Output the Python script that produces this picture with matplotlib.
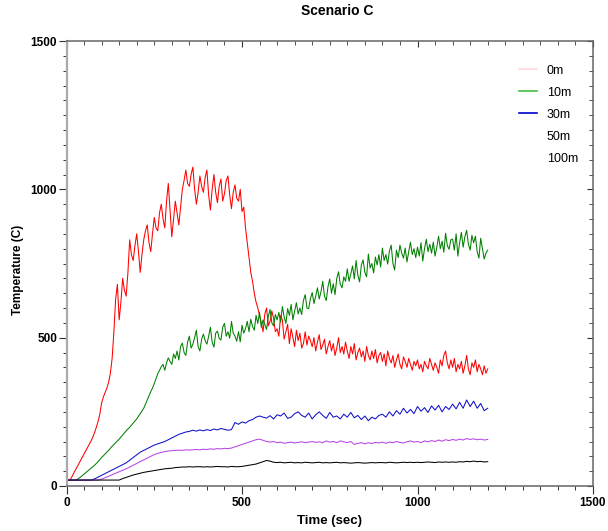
import numpy as np
import matplotlib
matplotlib.use("Agg")
import matplotlib.pyplot as plt
from matplotlib.lines import Line2D

plt.rcParams['font.family'] = ['Liberation Sans', 'DejaVu Sans']

# sample times (sec): 0m / 10m read every 5 s, the others every 10 s
time_fine = np.arange(0, 1201, 5)
time_s = np.arange(0, 1201, 10)

temp_0m = [
    20, 20, 20, 30, 42, 53, 64, 75, 86, 97, 108, 119, 130, 141, 152, 165, 180, 198, 218, 242,
    280, 300, 315, 330, 350, 380, 430, 520, 630, 680, 560, 620, 700, 660, 640, 720, 830, 780, 760, 810,
    850, 790, 720, 780, 830, 860, 880, 820, 790, 850, 905, 870, 860, 920, 950, 900, 870, 960, 1020, 930,
    840, 900, 960, 920, 880, 940, 1000, 1030, 1065, 1020, 1010, 1050, 1075, 1000, 950, 990, 1045, 1010, 990, 1040,
    1065, 980, 930, 1000, 1050, 990, 955, 1010, 1035, 960, 985, 1030, 1045, 980, 935, 990, 1015, 970, 960, 1000,
    925, 940, 870, 820, 770, 720, 690, 650, 620, 600, 575, 550, 520, 580, 600, 540, 555, 590, 565, 520,
    530, 505, 575, 560, 495, 520, 545, 480, 530, 500, 470, 525, 490, 515, 465, 480, 520, 475, 505, 490,
    470, 500, 455, 485, 510, 460, 475, 495, 445, 470, 490, 455, 480, 440, 465, 500, 450, 470, 445, 485,
    455, 430, 470, 445, 480, 425, 450, 465, 435, 455, 420, 470, 440, 425, 455, 430, 460, 415, 440, 450,
    420, 445, 405, 455, 430, 415, 440, 400, 425, 445, 410, 395, 435, 420, 400, 430, 410, 390, 420, 405,
    425, 395, 410, 385, 420, 405, 395, 430, 410, 390, 415, 400, 380, 425, 405, 440, 455, 415, 395, 425,
    400, 430, 385, 410, 395, 420, 380, 405, 440, 395, 375, 415, 400, 425, 385, 410, 395, 375, 405, 380,
    395]

temp_10m = [
    20, 20, 20, 20, 20, 20, 22, 26, 30, 35, 40, 45, 50, 55, 60, 65, 70, 76, 82, 89,
    96, 102, 108, 114, 120, 127, 134, 140, 146, 152, 158, 165, 172, 179, 186, 192, 198, 205, 212, 219,
    226, 235, 244, 253, 262, 276, 290, 304, 318, 330, 345, 362, 378, 390, 402, 410, 390, 415, 432, 420,
    410, 445, 430, 455, 425, 470, 482, 450, 440, 485, 505, 465, 478, 500, 525, 470, 455, 495, 512, 490,
    478, 505, 535, 485, 468, 515, 522, 498, 492, 535, 548, 505, 520, 498, 555, 515, 505, 488, 520, 486,
    542, 515, 530, 555, 520, 562, 538, 525, 575, 548, 585, 535, 560, 545, 528, 572, 595, 550, 540, 578,
    560, 585, 552, 605, 570, 548, 598, 575, 612, 560, 590, 618, 580, 600, 578, 625, 645, 600, 598, 632,
    652, 615, 640, 668, 630, 655, 690, 640, 625, 672, 698, 650, 682, 645, 700, 722, 680, 668, 705, 690,
    732, 690, 715, 742, 698, 760, 710, 688, 745, 762, 720, 705, 782, 735, 750, 718, 772, 745, 780, 738,
    802, 760, 780, 748, 792, 812, 750, 728, 795, 770, 812, 785, 768, 802, 755, 790, 822, 780, 800, 770,
    805, 775, 820, 758, 800, 832, 790, 815, 785, 822, 775, 805, 842, 800, 825, 788, 852, 810, 798, 830,
    832, 795, 850, 775, 820, 855, 805, 840, 862, 815, 795, 845, 820, 842, 790, 768, 835, 800, 765, 785,
    795]

temp_30m = [
    20, 20, 20, 20, 20, 20, 20, 20, 24, 30,
    36, 42, 48, 54, 60, 66, 72, 78, 87, 96,
    105, 114, 120, 126, 132, 138, 142, 146, 150, 156,
    162, 168, 174, 178, 182, 184, 188, 185, 189, 186,
    190, 187, 192, 189, 194, 191, 188, 190, 214, 208,
    216, 212, 220, 224, 232, 236, 232, 229, 237, 226,
    240, 236, 246, 228, 232, 244, 250, 238, 232, 246,
    226, 240, 250, 238, 228, 248, 232, 236, 226, 242,
    232, 248, 230, 238, 224, 236, 220, 232, 226, 238,
    242, 232, 250, 236, 254, 242, 262, 246, 258, 244,
    268, 252, 264, 248, 270, 256, 272, 250, 268, 258,
    276, 260, 282, 262, 290, 268, 286, 262, 278, 254,
    262]

temp_50m = [
    20, 20, 20, 20, 20, 20, 20, 20, 20, 20,
    23, 28, 33, 38, 43, 48, 53, 58, 64, 70,
    76, 82, 88, 94, 100, 106, 110, 113, 116, 118,
    119, 120, 121, 120, 122, 121, 122, 123, 122, 124,
    123, 125, 124, 126, 125, 127, 126, 128, 132, 136,
    140, 144, 148, 152, 156, 158, 154, 150, 148, 150,
    146, 148, 144, 146, 148, 145, 147, 149, 146, 148,
    150, 147, 149, 146, 152, 148, 150, 146, 152, 149,
    146, 150, 140, 144, 146, 142, 146, 143, 147, 145,
    148, 144, 148, 146, 150, 147, 145, 149, 152, 148,
    150, 146, 152, 149, 153, 150, 155, 151, 156, 153,
    157, 154, 158, 155, 160, 157, 159, 156, 158, 155,
    157]

temp_100m = [
    20, 20, 20, 20, 20, 20, 20, 20, 20, 20,
    20, 20, 20, 20, 20, 20, 25, 29, 33, 37,
    40, 43, 46, 48, 50, 52, 54, 56, 58, 59,
    60, 62, 63, 64, 64, 65, 64, 65, 65, 64,
    65, 64, 65, 66, 65, 65, 64, 66, 65, 65,
    66, 68, 70, 72, 74, 78, 82, 86, 84, 80,
    79, 80, 78, 79, 80, 78, 79, 78, 80, 79,
    78, 79, 80, 78, 79, 78, 79, 80, 78, 79,
    78, 77, 78, 79, 78, 77, 78, 79, 78, 79,
    79, 78, 80, 79, 78, 79, 80, 79, 80, 79,
    80, 79, 80, 81, 80, 79, 81, 80, 81, 80,
    81, 80, 82, 81, 83, 82, 84, 82, 83, 81,
    82]

labels = ["0m", "10m", "30m", "50m", "100m"]
times = [time_fine, time_fine, time_s, time_s, time_s]
series = [temp_0m, temp_10m, temp_30m, temp_50m, temp_100m]
colors = ["#ff0000", "#008000", "#1010c8", "#b844e8", "#000000"]
legend_colors = ["#ffdada", "#44bb44", "#0000cc", "none", "none"]

fig = plt.figure(figsize=(6.08, 5.31), dpi=100)
ax = fig.add_axes([66.5/608, 45/531, 526.5/608, 445/531])

for t, y, c in zip(times, series, colors):
    ax.plot(t, y, color=c, lw=0.75)

ax.set_xlim(0, 1500)
ax.set_ylim(0, 1500)
ax.set_xticks([0, 500, 1000, 1500])
ax.set_yticks([0, 500, 1000, 1500])
ax.set_xticks(np.arange(0, 1501, 50), minor=True)
ax.set_yticks(np.arange(0, 1501, 50), minor=True)

for s in ax.spines.values():
    s.set_color("#666666")
    s.set_linewidth(1.1)
ax.spines["left"].set_color("#aaaaaa")
ax.spines["left"].set_linewidth(1.6)

ax.tick_params(which="major", direction="out", length=5.5, width=0.8,
               colors="#333333", labelsize=8.5, labelcolor="black")
ax.tick_params(which="minor", direction="out", length=2.6, width=0.7,
               colors="#333333")
ax.tick_params(axis="y", which="major", pad=1.2)
ax.tick_params(axis="x", which="major", pad=2.5)
for lab in ax.get_xticklabels() + ax.get_yticklabels():
    lab.set_fontweight("bold")

# inward ticks on the top and right edges
top = ax.secondary_xaxis("top")
top.set_xticks([0, 500, 1000, 1500])
top.set_xticks(np.arange(0, 1501, 50), minor=True)
top.tick_params(which="both", direction="in", labeltop=False, colors="#333333")
top.tick_params(which="major", length=4)
top.tick_params(which="minor", length=2.6)
top.spines["top"].set_visible(False)

right = ax.secondary_yaxis("right")
right.set_yticks([0, 500, 1000, 1500])
right.set_yticks(np.arange(0, 1501, 50), minor=True)
right.tick_params(which="both", direction="in", labelright=False, colors="#333333")
right.tick_params(which="major", length=4)
right.tick_params(which="minor", length=2.6)
right.spines["right"].set_visible(False)

ax.set_xlabel("Time (sec)", fontsize=9.5, fontweight="bold", labelpad=4)
ax.set_ylabel("Temperature (C)", fontsize=8.5, fontweight="bold")
ax.yaxis.set_label_coords(-0.08, 0.485)
ax.set_title("Scenario C", fontsize=10, fontweight="bold", pad=19, x=0.514)

handles = [Line2D([], [], color=c, lw=1.2) for c in legend_colors]
ax.legend(handles, labels, loc="upper left", bbox_to_anchor=(0.8386, 0.972),
          frameon=False, fontsize=9, handlelength=1.45, handletextpad=0.75,
          labelspacing=0.8)

fig.savefig("out.png", dpi=100)
